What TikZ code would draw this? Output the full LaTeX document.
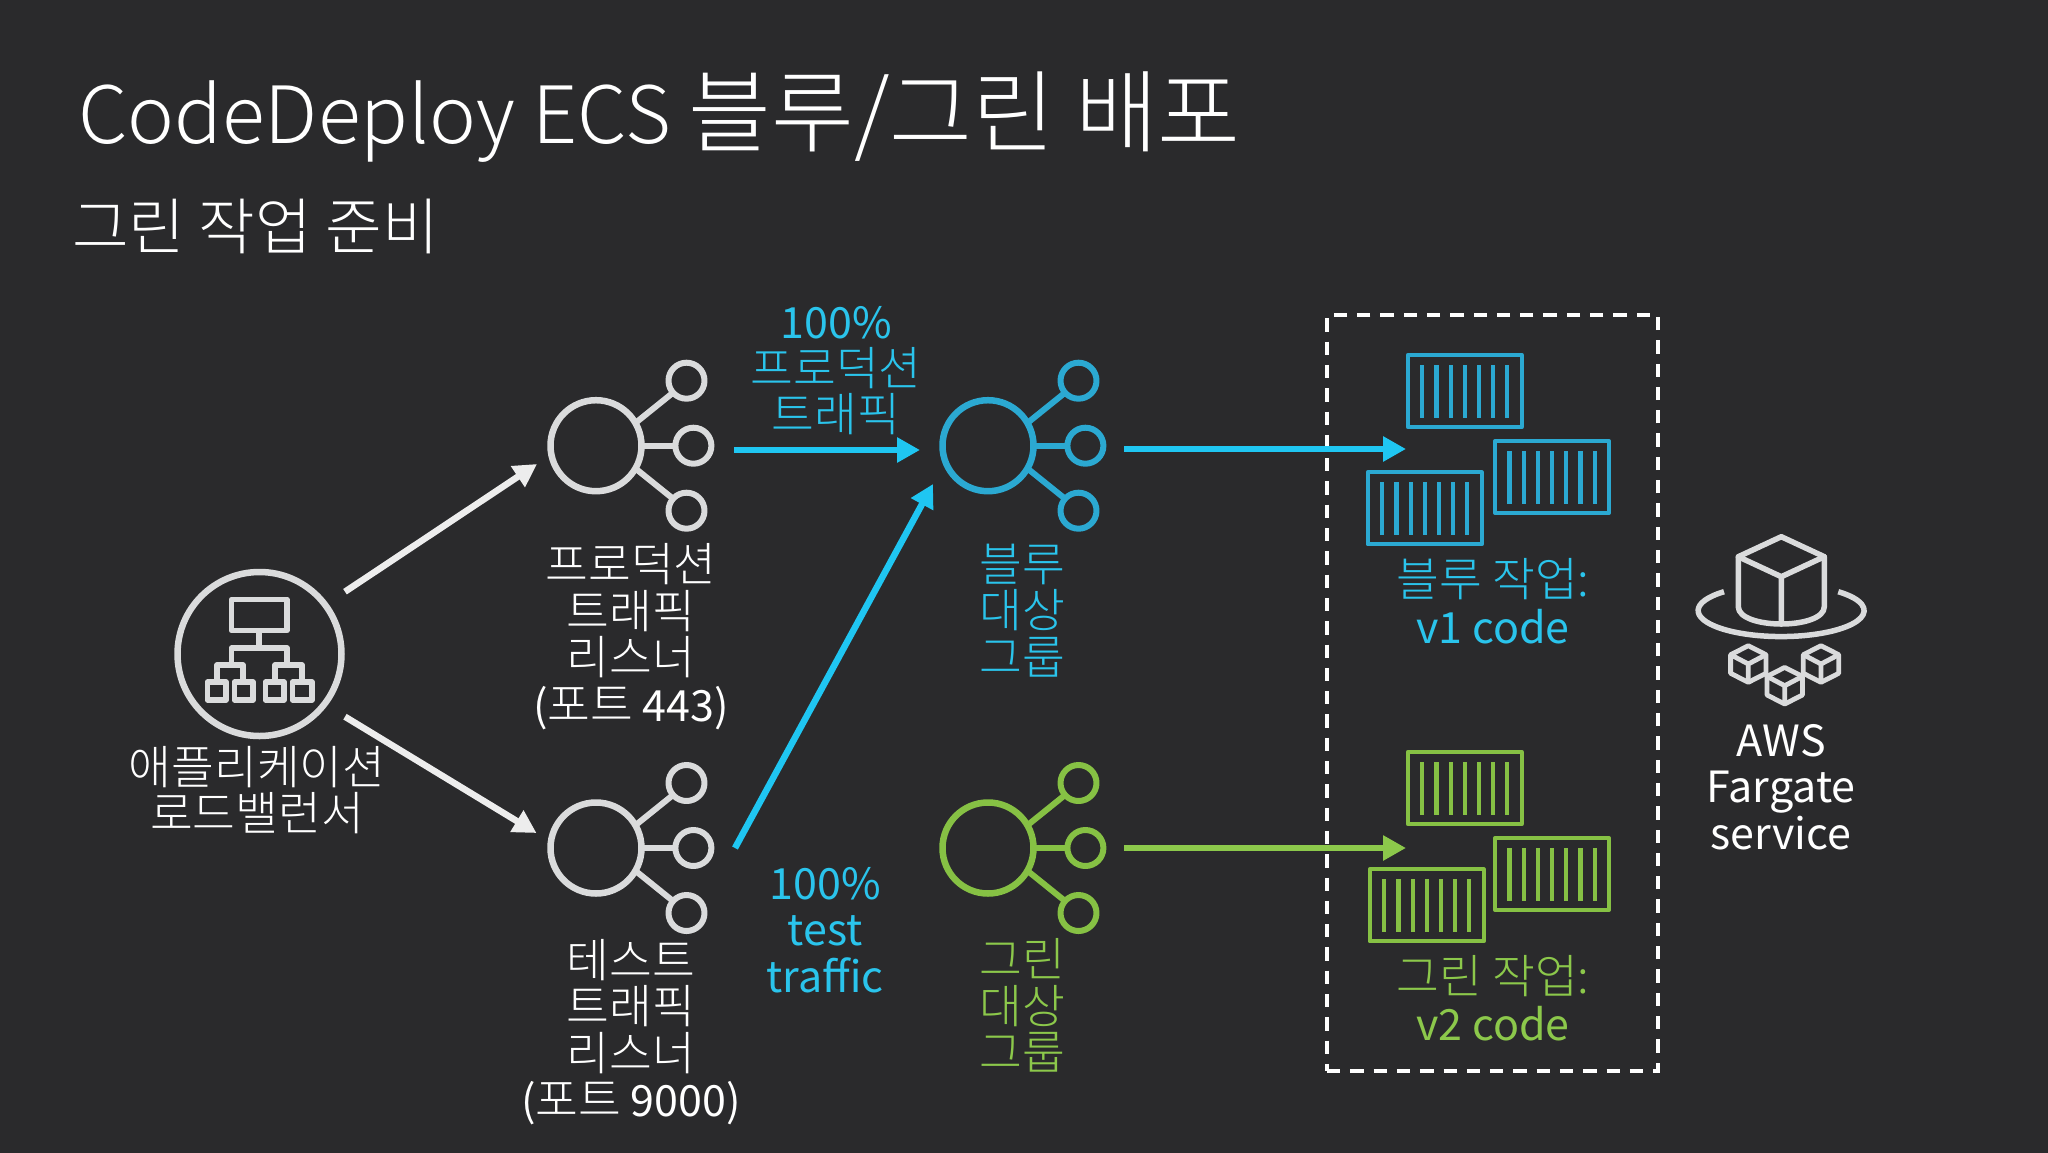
\documentclass[tikz,border=0pt]{standalone}
\usepackage{fontspec}
\usetikzlibrary{arrows.meta}
\setmainfont{Noto Sans CJK KR}
\newfontfamily\lightfont{Noto Sans CJK KR Light}
\newcommand{\kr}[1]{{\lightfont\fontsize{46.5}{46.5}\selectfont #1}}
\definecolor{bgc}{HTML}{2A2A2C}
\definecolor{iconw}{HTML}{DADBDC}
\definecolor{iconb}{HTML}{2BA9D2}
\definecolor{arrowb}{HTML}{1FC6F2}
\definecolor{textb}{HTML}{2AC4EC}
\definecolor{icong}{HTML}{86C144}
\definecolor{arrowg}{HTML}{8CC84B}
\tikzset{
  lbl/.style={align=center,inner sep=0pt,font=\fontsize{43}{46.5}\selectfont},
  conn/.style={line width=6.5pt,-{Triangle[length=23pt,width=24pt]}},
  icon/.style={line width=#1,line join=round},
}
% hub icon: #1 centre x, #2 centre y, #3 colour
\newcommand{\hubicon}[3]{%
  \begin{scope}[shift={(#1,#2)},draw=#3]
    \draw[icon=6.5pt] (0,0) circle[radius=45.5pt];
    \draw[icon=6pt] (90.5,-65) circle[radius=18pt];
    \draw[icon=6pt] (97.4,0) circle[radius=18pt];
    \draw[icon=6pt] (90.5,65) circle[radius=18pt];
    \draw[icon=6pt] (41,-24) -- (77,-53);
    \draw[icon=6pt] (45,0) -- (79,0);
    \draw[icon=6pt] (41,24) -- (77,53);
  \end{scope}}
% container: #1 x, #2 y top-left, #3 colour
\newcommand{\contbox}[3]{%
  \begin{scope}[shift={(#1,#2)},draw=#3]
    \draw[icon=4pt] (0,0) rectangle (114,72);
    \foreach \bx in {14.5,28.7,42.9,57,71.2,85.4,99.6}
      \draw[line width=4.2pt] (\bx,10) -- (\bx,62.5);
  \end{scope}}
\newcommand{\smallcube}[2]{%
  \begin{scope}[shift={(#1,#2)},draw=iconw]
    \draw[icon=4.8pt] (0,-18.3) -- (17.7,-9.3) -- (17.7,9.3) -- (0,18.3) -- (-17.7,9.3) -- (-17.7,-9.3) -- cycle;
    \draw[icon=4.8pt] (-17.7,-9.3) -- (0,0) -- (17.7,-9.3) (0,0) -- (0,18.3);
  \end{scope}}
\begin{document}
\begin{tikzpicture}[x=1pt,y=-1pt]
\useasboundingbox (0,0) rectangle (2048,1152);
\fill[bgc] (-6,-6) rectangle (2054,1158);

% titles
\node[anchor=base west,inner sep=0pt,text=white] (title) at (78,145)
  {\lightfont\fontsize{79}{90}\selectfont \raisebox{2pt}{CodeDeploy ECS} {\fontsize{90}{90}\selectfont 블루/그린 배포}};
\node[anchor=base west,inner sep=0pt,text=white] (subtitle) at (72,249)
  {\lightfont\fontsize{61.5}{60}\selectfont 그린 작업 준비};

% load balancer icon
\node[circle,draw=iconw,line width=6.5pt,minimum size=164pt,inner sep=0pt] (lb) at (259.5,654) {};
\begin{scope}[draw=iconw]
  \draw[icon=5.5pt] (231.5,599.5) rectangle (287,630.5);
  \draw[icon=5.5pt] (259,633) -- (259,648)
     (231.5,663) -- (231.5,648) -- (287,648) -- (287,663)
     (217,680) -- (217,665) -- (243,665) -- (243,680)
     (275,680) -- (275,665) -- (302,665) -- (302,680);
  \draw[icon=5.5pt] (207.5,682) rectangle (226,700);
  \draw[icon=5.5pt] (234.5,682) rectangle (253,700);
  \draw[icon=5.5pt] (265.5,682) rectangle (284,700);
  \draw[icon=5.5pt] (292.5,682) rectangle (312,700);
\end{scope}

% hubs
\hubicon{596}{445.7}{iconw}
\hubicon{596}{848}{iconw}
\hubicon{988}{445.7}{iconb}
\hubicon{988}{848}{icong}

% dashed box
\node[draw=white,line width=3.2pt,dash pattern=on 13.3pt off 10pt,inner sep=0pt,minimum width=331pt,minimum height=756pt] (taskbox) at (1492.5,693) {};

% containers
\contbox{1407.7}{355}{iconb}
\contbox{1495}{441}{iconb}
\contbox{1367.7}{472.3}{iconb}
\contbox{1407.7}{752}{icong}
\contbox{1495}{838}{icong}
\contbox{1369.7}{869.3}{icong}

% Fargate icon
\begin{scope}[draw=iconw,line cap=round]
  \draw[icon=5.5pt] (1781.3,536.7) -- (1824.3,556.7) -- (1824.3,606.7)
     .. controls (1824.3,618) and (1803,624) .. (1781.3,624)
     .. controls (1759.6,624) and (1738.3,618) .. (1738.3,606.7)
     -- (1738.3,556.7) -- cycle;
  \draw[icon=5.5pt] (1738.3,556.7) -- (1781.3,576.7) -- (1824.3,556.7)
     (1781.3,576.7) -- (1781.3,624);
  \draw[icon=5.5pt,line cap=butt] (1724,591.7) arc[start angle=133.5,end angle=406.5,x radius=83pt,y radius=26pt];
\end{scope}
\smallcube{1748.3}{664}
\smallcube{1821}{664}
\smallcube{1784.7}{685.7}

% connector ends
\coordinate (a1s) at (345,591.7); \coordinate (a1e) at (537,464);
\coordinate (a2s) at (345,716.7); \coordinate (a2e) at (536.5,833);
\coordinate (a3s) at (734,450);   \coordinate (a3e) at (920,450);
\coordinate (a4s) at (735,848);   \coordinate (a4e) at (933,484);
\coordinate (a5s) at (1124,449);  \coordinate (a5e) at (1406,449);
\coordinate (a6s) at (1124,848);  \coordinate (a6e) at (1406,848);
\draw[conn,draw=white!93!black,fill=white!93!black] (a1s) -- (a1e);
\draw[conn,draw=white!93!black,fill=white!93!black] (a2s) -- (a2e);
\draw[conn,draw=arrowb,fill=arrowb] (a3s) -- (a3e);
\draw[conn,draw=arrowb,fill=arrowb] (a4s) -- (a4e);
\draw[conn,draw=arrowb,fill=arrowb] (a5s) -- (a5e);
\draw[conn,draw=arrowg,fill=arrowg] (a6s) -- (a6e);

% labels
\node[lbl,text=white] (llb) at (257,790) {\kr{애플리케이션}\\\kr{로드밸런서}};
\node[lbl,text=white] (lprod) at (631,636.5) {\kr{프로덕션}\\\kr{트래픽}\\\kr{리스너}\\(\kr{포트} 443)};
\node[lbl,text=white] (ltest) at (631,1032) {\kr{테스트}\\\kr{트래픽}\\\kr{리스너}\\(\kr{포트} 9000)};
\node[lbl,text=textb] (lp100) at (836,371) {100\%\\\kr{프로덕션}\\\kr{트래픽}};
\node[lbl,text=textb] (lt100) at (825,930) {100\%\\test\\traffic};
\node[lbl,text=textb] (lblue) at (1022,610.5) {\kr{블루}\\\kr{대상}\\\kr{그룹}};
\node[lbl,text=arrowg] (lgreen) at (1022,1005.5) {\kr{그린}\\\kr{대상}\\\kr{그룹}};
\node[lbl,text=textb] (tblue) at (1493,601) {\kr{블루 작업:}\\v1 code};
\node[lbl,text=arrowg] (tgreen) at (1493,998) {\kr{그린 작업:}\\v2 code};
\node[lbl,text=white] (lfarg) at (1781,787) {AWS\\Fargate\\service};
\end{tikzpicture}
\end{document}
